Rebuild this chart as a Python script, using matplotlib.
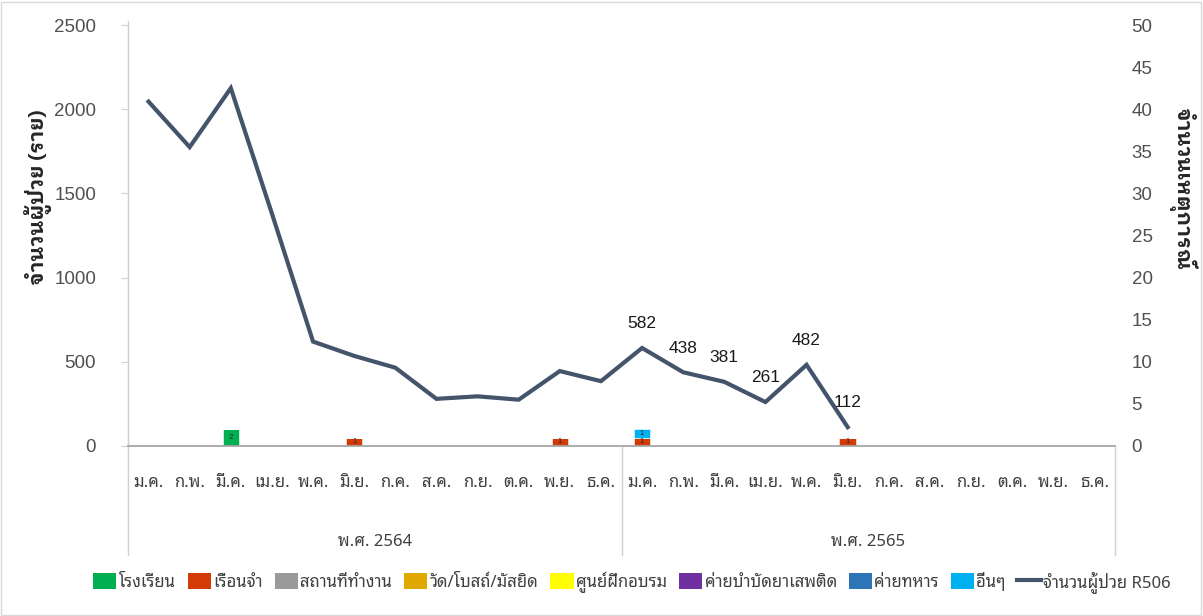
import matplotlib
matplotlib.use('Agg')
import matplotlib.pyplot as plt
import matplotlib.transforms as mtransforms
from matplotlib.patches import Patch, Rectangle
from matplotlib.lines import Line2D
import numpy as np

# ---------------- data ----------------
months = ['ม.ค.', 'ก.พ.', 'มี.ค.', 'เม.ย.', 'พ.ค.', 'มิ.ย.', 'ก.ค.', 'ส.ค.', 'ก.ย.', 'ต.ค.', 'พ.ย.', 'ธ.ค.']
years = ['พ.ศ. 2564', 'พ.ศ. 2565']
patients_2564 = [2045, 1775, 2125, 1380, 620, 535, 465, 280, 295, 275, 445, 385]
patients_2565 = [582, 438, 381, 261, 482, 112]

event_types = ['โรงเรียน', 'เรือนจำ', 'สถานที่ทำงาน', 'วัด/โบสถ์/มัสยิด', 'ศูนย์ฝึกอบรม',
               'ค่ายบำบัดยาเสพติด', 'ค่ายทหาร', 'อื่นๆ']
type_colors = ['#00b050', '#d23a06', '#9a9a9a', '#e0a800', '#ffff00', '#7030a0', '#2e75b6', '#00b0f0']
# events per month (24 months) for each type
ev_school  = [0, 0, 2, 0, 0, 0, 0, 0, 0, 0, 0, 0,  0, 0, 0, 0, 0, 0, 0, 0, 0, 0, 0, 0]
ev_prison  = [0, 0, 0, 0, 0, 1, 0, 0, 0, 0, 1, 0,  1, 0, 0, 0, 0, 1, 0, 0, 0, 0, 0, 0]
ev_work    = [0] * 24
ev_temple  = [0] * 24
ev_train   = [0] * 24
ev_rehab   = [0] * 24
ev_army    = [0] * 24
ev_other   = [0, 0, 0, 0, 0, 0, 0, 0, 0, 0, 0, 0,  1, 0, 0, 0, 0, 0, 0, 0, 0, 0, 0, 0]
events = [ev_school, ev_prison, ev_work, ev_temple, ev_train, ev_rehab, ev_army, ev_other]
line_label = 'จำนวนผู้ป่วย R506'
line_color = '#44546a'

THAI = ['Noto Sans Thai Looped', 'DejaVu Sans']
THAI_B = ['IBM Plex Sans Thai Looped', 'Noto Sans Thai', 'DejaVu Sans']
NUM = ['Liberation Sans Narrow', 'Liberation Sans', 'DejaVu Sans']

# ---------------- figure ----------------
W, H = 1203, 616
fig = plt.figure(figsize=(W / 100, H / 100), dpi=100)
fig.patch.set_facecolor('white')
ax_l, ax_r, ax_t, ax_b = 128, 1115, 25, 446
ax = fig.add_axes([ax_l / W, 1 - ax_b / H, (ax_r - ax_l) / W, (ax_b - ax_t) / H])
ax2 = ax.twinx()

n = len(months) * len(years)
x = np.arange(n)
labels_x = months * len(years)

# bars (secondary axis)
bottom = np.zeros(n)
for vals, col in zip(events, type_colors):
    v = np.array(vals, dtype=float)
    ax2.bar(x, v, bottom=bottom, width=0.4, color=col, edgecolor='white', linewidth=0.4, zorder=2)
    for xi, vi, bi in zip(x, v, bottom):
        if vi > 0:
            ax2.text(xi, bi + vi / 2, '%d' % vi, ha='center', va='center', fontsize=5.5,
                     color='#262626', family=NUM, zorder=3)
    bottom += v
ax2.set_ylim(0, 50)
ax2.set_yticks(np.arange(0, 51, 5))

# line (primary axis)
pat = np.array(patients_2564 + patients_2565 + [np.nan] * (n - len(patients_2564) - len(patients_2565)), dtype=float)
ax.plot(x, pat, color=line_color, linewidth=3, solid_joinstyle='miter', zorder=4)
for i, v in enumerate(patients_2565):
    xi = len(patients_2564) + i
    ax.annotate('%d' % v, (xi, v), xytext=(0, 12), textcoords='offset points', ha='center', va='bottom',
                fontsize=12.5, color='#1a1a1a', family=['Liberation Sans', 'DejaVu Sans'])
ax.set_ylim(0, 2500)
ax.set_yticks(np.arange(0, 2501, 500))
ax.set_xlim(-0.5, n - 0.5)
ax.set_zorder(ax2.get_zorder() + 1)
ax.patch.set_visible(False)

# spines and ticks
for a in (ax, ax2):
    for s in a.spines.values():
        s.set_visible(False)
ax.spines['left'].set_visible(True)
ax.spines['left'].set_color('#d0d0d0')
ax.spines['left'].set_bounds(0, 2500)
ax.spines['bottom'].set_visible(True)
ax.spines['bottom'].set_color('#a6a6a6')
ax.spines['bottom'].set_linewidth(1.3)
ax.tick_params(axis='y', length=5, color='#d0d0d0', labelsize=13.5, labelcolor='#505050', pad=18)
ax2.tick_params(axis='y', length=0, labelsize=13.5, labelcolor='#505050', pad=12)
for t in ax.get_yticklabels() + ax2.get_yticklabels():
    t.set_family(NUM)
ax.set_xticks(x)
ax.set_xticklabels(labels_x, family=THAI, fontsize=12, color='#404040')
ax.tick_params(axis='x', length=0, pad=21)

# category group separators and year labels
trans = mtransforms.blended_transform_factory(ax.transData, ax.transAxes)
sep_depth = (555 - ax_b) / (ax_b - ax_t)
for xs in [-0.5, 11.5, 23.5]:
    ax.add_line(Line2D([xs, xs], [0, -sep_depth], transform=trans, color='#d0d0d0', linewidth=1, clip_on=False))
ax.add_line(Line2D([-0.5, -0.5], [0, 1.01], transform=trans, color='#d0d0d0', linewidth=1, clip_on=False))
year_y = -(542 - ax_b) / (ax_b - ax_t)
for j, yl in enumerate(years):
    xc = j * len(months) + (len(months) - 1) / 2
    ax.text(xc, year_y, yl, transform=trans, ha='center', va='center', family=THAI, fontsize=12, color='#404040')

# axis titles
fig.text(38 / W, 1 - 197 / H, 'จำนวนผู้ป่วย (ราย)', rotation=90, ha='center', va='center',
         family=THAI_B, fontsize=15, fontweight='bold', color='#262626')
fig.text(1183 / W, 1 - 188 / H, 'จำนวนเหตุการณ์', rotation=270, ha='center', va='center',
         family=THAI_B, fontsize=15, fontweight='bold', color='#262626')

# legend
handles = [Patch(facecolor=c, edgecolor='none', label=l) for l, c in zip(event_types, type_colors)]
handles.append(Line2D([], [], color=line_color, linewidth=3, label=line_label))
fig.legend(handles=handles, loc='center', bbox_to_anchor=(632 / W, 1 - 582 / H), ncol=len(handles),
           frameon=False, prop={'family': THAI, 'size': 12}, handlelength=1.4, handleheight=1.1,
           handletextpad=0.15, columnspacing=0.7, labelcolor='#404040')

# chart border
fig.add_artist(Rectangle((1 / W, 1 / H), 1 - 3 / W, 1 - 3 / H, transform=fig.transFigure,
                         fill=False, edgecolor='#d9d9d9', linewidth=1))

fig.savefig('out.png', dpi=100, facecolor='white')
